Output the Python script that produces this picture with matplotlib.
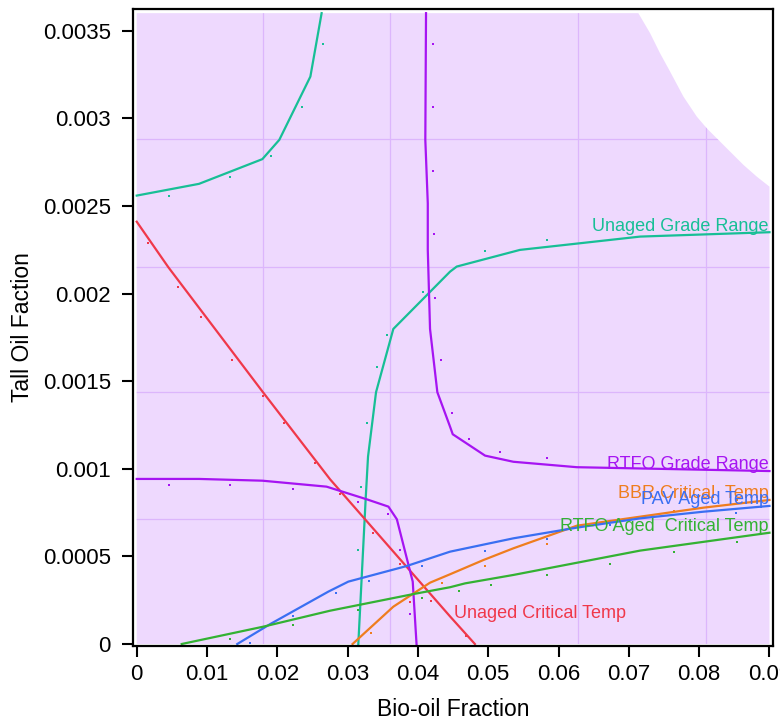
import matplotlib
matplotlib.use("Agg")
import matplotlib.pyplot as plt
from matplotlib.patches import Polygon

plt.rcParams['font.family'] = ['Liberation Sans', 'DejaVu Sans']

# feasible region (shaded), upper-right boundary
region_x = [0, 0.09, 0.09, 0.0882, 0.0863, 0.0844, 0.0825, 0.08108, 0.07966,
            0.07776, 0.07586, 0.07444, 0.07302, 0.07135, 0]
region_y = [0, 0, 0.00261, 0.002667, 0.002734, 0.00281, 0.002886, 0.002943,
            0.00301, 0.003124, 0.003267, 0.003371, 0.003486, 0.0036, 0.0036]

# tile seams visible in the shaded region
seam_x = [0.018, 0.036, 0.0628, 0.081]
seam_y = [0.000713, 0.00144, 0.00215, 0.00288]

# Unaged Grade Range (two branches)
ugr1_x = [0, 0.00886, 0.01787, 0.02028, 0.0247, 0.0263]
ugr1_y = [0.002559, 0.002626, 0.002767, 0.002877, 0.003238, 0.0036]
ugr2_x = [0.03152, 0.03257, 0.0329, 0.03404, 0.0365, 0.04457, 0.04552, 0.0545, 0.0716, 0.09]
ugr2_y = [0, 0.000832, 0.001069, 0.001437, 0.001798, 0.002125, 0.002154, 0.002249, 0.002325, 0.00235]
ugr_px = [0.0046, 0.0133, 0.0191, 0.0235, 0.02646, 0.03144, 0.03195, 0.0328, 0.03414,
          0.03556, 0.04073, 0.04955, 0.0583]
ugr_py = [0.002557, 0.002667, 0.002787, 0.003063, 0.003426, 0.000537, 0.000898, 0.00126,
          0.001579, 0.001766, 0.002007, 0.00224, 0.002306]

# Unaged Critical Temp
uct_x = [0, 0.0045, 0.0179, 0.0275, 0.0446, 0.0481]
uct_y = [0.00241, 0.00215, 0.00144, 0.00094, 0.000156, 0]
uct_px = [0.0016, 0.0059, 0.0092, 0.0136, 0.018, 0.021, 0.0254, 0.0289, 0.03357,
          0.03745, 0.0388, 0.0419, 0.0468]
uct_py = [0.00229, 0.00204, 0.001865, 0.001623, 0.001416, 0.00126, 0.001031, 0.000854,
          0.000635, 0.000457, 0.00024, 0.000247, 0.0000457]

# RTFO Grade Range (two branches)
rgr1_x = [0, 0.00886, 0.01787, 0.027, 0.0327, 0.0358, 0.037, 0.03926, 0.0398]
rgr1_y = [0.000942, 0.000942, 0.000932, 0.000898, 0.000826, 0.000784, 0.000712, 0.000356, 0]
rgr2_x = [0.04115, 0.04105, 0.0414, 0.0414, 0.04172, 0.04276, 0.04457, 0.04495,
          0.04955, 0.05357, 0.06259, 0.09]
rgr2_y = [0.0036, 0.002877, 0.002515, 0.00225, 0.001798, 0.001437, 0.00124, 0.001197,
          0.001075, 0.00104, 0.001009, 0.000987]
rgr_px = [0.0046, 0.0133, 0.0223, 0.03144, 0.0358, 0.03745, 0.0388, 0.0421, 0.0421,
          0.0421, 0.04233, 0.0424, 0.04324, 0.04485, 0.0473, 0.05168, 0.0583]
rgr_py = [0.000909, 0.000909, 0.000886, 0.00081, 0.000744, 0.000537, 0.000173, 0.003426,
          0.003063, 0.0027, 0.002338, 0.001975, 0.001623, 0.001317, 0.001172, 0.001096, 0.001063]

# BBR Critical Temp
bbr_x = [0.0307, 0.0365, 0.04172, 0.04457, 0.0493, 0.05357, 0.06259, 0.06922, 0.0806, 0.09]
bbr_y = [0, 0.000213, 0.00035, 0.000398, 0.000479, 0.000546, 0.000675, 0.000713, 0.000778, 0.000822]
bbr_px = [0.0333, 0.04347, 0.04955, 0.0583, 0.0673, 0.0764, 0.0854]
bbr_py = [0.0000647, 0.00035, 0.000445, 0.000569, 0.0007, 0.00076, 0.00082]

# PAV Aged Temp
pav_x = [0.0143, 0.019, 0.02726, 0.0301, 0.0384, 0.04457, 0.05357, 0.06259, 0.0716, 0.0806, 0.09]
pav_y = [0, 0.000114, 0.000299, 0.000356, 0.000445, 0.000527, 0.000603, 0.000664,
         0.000717, 0.000755, 0.000788]
pav_px = [0.0161, 0.0223, 0.0284, 0.0331, 0.04054, 0.04955, 0.0583, 0.0673, 0.0853]
pav_py = [0.0000076, 0.00016, 0.000293, 0.000361, 0.000447, 0.000533, 0.0006, 0.00068, 0.000746]

# RTFO Aged Critical Temp
rac_x = [0.0064, 0.018, 0.0275, 0.03935, 0.04457, 0.0467, 0.05357, 0.0716, 0.09]
rac_y = [0, 0.0000989, 0.00019, 0.000285, 0.000324, 0.000346, 0.000394, 0.000533, 0.000635]
rac_px = [0.0133, 0.0223, 0.03144, 0.04054, 0.0459, 0.0504, 0.0583, 0.0673, 0.0764, 0.0854]
rac_py = [0.00003, 0.000107, 0.000194, 0.00026, 0.000304, 0.000337, 0.000392, 0.000458,
          0.000525, 0.00058]

x_ticks = [0, 0.01, 0.02, 0.03, 0.04, 0.05, 0.06, 0.07, 0.08, 0.09]
y_ticks = [0, 0.0005, 0.001, 0.0015, 0.002, 0.0025, 0.003, 0.0035]

c_teal = '#17bf96'
c_red = '#f0384a'
c_purple = '#a614f2'
c_orange = '#ef7d1e'
c_blue = '#3a6ff2'
c_green = '#33b233'

fig = plt.figure(figsize=(7.8, 7.23), dpi=100)
ax = fig.add_axes([0.1705, 0.1065, 0.8205, 0.8811])

region = Polygon(list(zip(region_x, region_y)), closed=True, facecolor='#eed9fe',
                 edgecolor='none', zorder=0)
ax.add_patch(region)
for sx in seam_x:
    ln = ax.axvline(sx, color='#dcb6fc', lw=0.9, zorder=0.5)
    ln.set_clip_path(region)
for sy in seam_y:
    ln = ax.axhline(sy, color='#dcb6fc', lw=0.9, zorder=0.5)
    ln.set_clip_path(region)

lw = 1.6
ms = 1.6
ax.plot(ugr1_x, ugr1_y, color=c_teal, lw=lw)
ax.plot(ugr2_x, ugr2_y, color=c_teal, lw=lw)
ax.plot(ugr_px, ugr_py, 's', color=c_teal, ms=ms, mew=0)
ax.plot(uct_x, uct_y, color=c_red, lw=lw)
ax.plot(uct_px, uct_py, 's', color=c_red, ms=ms, mew=0)
ax.plot(rgr1_x, rgr1_y, color=c_purple, lw=lw)
ax.plot(rgr2_x, rgr2_y, color=c_purple, lw=lw)
ax.plot(rgr_px, rgr_py, 's', color=c_purple, ms=ms, mew=0)
ax.plot(bbr_x, bbr_y, color=c_orange, lw=lw)
ax.plot(bbr_px, bbr_py, 's', color=c_orange, ms=ms, mew=0)
ax.plot(pav_x, pav_y, color=c_blue, lw=lw)
ax.plot(pav_px, pav_py, 's', color=c_blue, ms=ms, mew=0)
ax.plot(rac_x, rac_y, color=c_green, lw=lw)
ax.plot(rac_px, rac_py, 's', color=c_green, ms=ms, mew=0)

fs = 13
ax.text(0.0899, 0.00238, 'Unaged Grade Range', color=c_teal, fontsize=fs, ha='right', va='center')
ax.text(0.0899, 0.001025, 'RTFO Grade Range', color=c_purple, fontsize=fs, ha='right', va='center')
ax.text(0.0899, 0.00086, 'BBR Critical  Temp', color=c_orange, fontsize=fs, ha='right', va='center')
ax.text(0.0899, 0.000825, 'PAV Aged Temp', color=c_blue, fontsize=fs, ha='right', va='center')
ax.text(0.0899, 0.000672, 'RTFO Aged  Critical Temp', color=c_green, fontsize=fs, ha='right', va='center')
ax.text(0.0452, 0.000175, 'Unaged Critical Temp', color=c_red, fontsize=fs, ha='left', va='center')

ax.set_xlim(-0.00053, 0.0905)
ax.set_ylim(-0.0000114, 0.003624)
ax.set_xticks(x_ticks)
ax.set_xticklabels(['{:g}'.format(v) for v in x_ticks])
ax.set_yticks(y_ticks)
ax.set_yticklabels(['{:g}'.format(v) for v in y_ticks])
ax.tick_params(direction='out', length=8, width=1.5, labelsize=16, top=False, right=False)
ax.tick_params(axis='x', pad=5)
ax.tick_params(axis='y', pad=8)
for sp in ax.spines.values():
    sp.set_linewidth(1.6)

ax.set_xlabel('Bio-oil Fraction', fontsize=16.5, labelpad=9)
ax.set_ylabel('Tall Oil Faction', fontsize=16.5, labelpad=6)

fig.savefig('out.png', dpi=100)
